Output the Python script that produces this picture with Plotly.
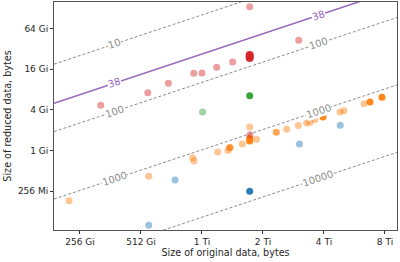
import numpy as np
import plotly.graph_objects as go

GI = 2 ** 30

# ---- data (sizes in GiB) ----
red_light_orig = [324, 553, 699, 932, 1024, 1210, 1451, 1761, 3073, 1767]
red_light_red = [4.68, 7.20, 9.92, 13.96, 14.1, 17.1, 20.5, 135.7, 43.1, 1.715]
red_dark_orig = [1761, 1761, 1761]
red_dark_red = [26.1, 24.8, 23.5]
green_dark_orig = [1761]
green_dark_red = [6.5]
green_light_orig = [1030]
green_light_red = [3.72]
blue_light_orig = [559, 754, 3101, 4929]
blue_light_red = [0.0778, 0.365, 1.248, 2.364]
blue_dark_orig = [1761]
blue_dark_red = [0.248]
orange_light_orig = [226, 559, 921, 935, 1224, 1376, 1400, 1619, 1761, 1902,
                     2681, 3059, 3365, 3493, 3698, 4912, 5142, 6453]
orange_light_red = [0.180, 0.414, 0.782, 0.699, 0.950, 1.0, 1.10, 1.248, 2.23, 1.466,
                    2.062, 2.348, 2.557, 2.619, 2.882, 3.72, 3.89, 4.94]
orange_mid_orig = [1408, 2383]
orange_mid_red = [1.108, 1.862]
orange_dark_orig = [1761, 1761, 4051, 6908, 7918]
orange_dark_red = [1.383, 1.506, 3.14, 5.24, 6.15]

ratios = [10, 38, 100, 1000, 10000]
label_orig_gib = [381, 3827]

x_tick_vals = [2 ** 38, 2 ** 39, 2 ** 40, 2 ** 41, 2 ** 42, 2 ** 43]
x_tick_text = ["256 Gi", "512 Gi", "1 Ti", "2 Ti", "4 Ti", "8 Ti"]
y_tick_vals = [2 ** 28, 2 ** 30, 2 ** 32, 2 ** 34, 2 ** 36]
y_tick_text = ["256 Mi", "1 Gi", "4 Gi", "16 Gi", "64 Gi"]

L2 = np.log10(2)
x_range = [37.574 * L2, 43.197 * L2]
y_range = [26.084 * L2, 37.315 * L2]

fig = go.Figure()

# ratio lines
x_ends = np.array([10 ** x_range[0], 10 ** x_range[1]])
for r in ratios:
    is38 = r == 38
    fig.add_trace(go.Scatter(
        x=x_ends, y=x_ends / r, mode="lines",
        line=dict(color="#9467bd" if is38 else "#8c8c8c",
                  width=1.5 if is38 else 1,
                  dash="solid" if is38 else "3px,2px"),
        hoverinfo="skip", showlegend=False))

def add_pts(xs, ys, color, alpha, size=7):
    fig.add_trace(go.Scatter(
        x=np.array(xs) * GI, y=np.array(ys) * GI, mode="markers",
        marker=dict(color=color, opacity=alpha, size=size, line=dict(width=0)),
        showlegend=False))

add_pts(orange_light_orig, orange_light_red, "#ff7f0e", 0.45)
add_pts(orange_mid_orig, orange_mid_red, "#ff7f0e", 0.7)
add_pts(orange_dark_orig, orange_dark_red, "#ff7f0e", 0.95)
add_pts(blue_light_orig, blue_light_red, "#1f77b4", 0.45)
add_pts(blue_dark_orig, blue_dark_red, "#1f77b4", 0.95)
add_pts(green_light_orig, green_light_red, "#2ca02c", 0.45)
add_pts(green_dark_orig, green_dark_red, "#2ca02c", 0.95)
add_pts(red_light_orig, red_light_red, "#d62728", 0.45)
add_pts(red_dark_orig, red_dark_red, "#d62728", 0.95, size=8)

# inline labels
for r in ratios:
    for xo in label_orig_gib:
        xb = xo * GI
        yb = xb / r
        lx, ly = np.log10(xb), np.log10(yb)
        if not (y_range[0] + 0.1 < ly < y_range[1] - 0.1):
            continue
        fig.add_annotation(
            x=lx, y=ly, text=str(r), showarrow=False, textangle=-18.4,
            font=dict(family="DejaVu Sans", size=10,
                      color="#9467bd" if r == 38 else "#8c8c8c"),
            bgcolor="white", borderpad=0, xanchor="center", yanchor="middle")

axis_common = dict(
    type="log", showgrid=False, zeroline=False, showline=True, mirror=True,
    linecolor="#555555", linewidth=1, ticks="outside", ticklen=3,
    tickcolor="#333333", automargin=False,
    tickfont=dict(family="DejaVu Sans", size=9, color="#262626"))

fig.update_layout(
    width=400, height=262,
    margin=dict(l=54, r=3, t=2, b=32),
    plot_bgcolor="white", paper_bgcolor="white",
    xaxis=dict(range=x_range, tickvals=x_tick_vals, ticktext=x_tick_text,
               title=dict(text="Size of original data, bytes", standoff=0,
                          font=dict(family="DejaVu Sans", size=9.6, color="#262626")),
               **axis_common),
    yaxis=dict(range=y_range, tickvals=y_tick_vals, ticktext=y_tick_text,
               title=dict(text="Size of reduced data, bytes", standoff=4,
                          font=dict(family="DejaVu Sans", size=9.6, color="#262626")),
               **axis_common),
)

fig.write_html("out.html", config={"displayModeBar": False},
               post_script="document.body.style.margin='0';")
